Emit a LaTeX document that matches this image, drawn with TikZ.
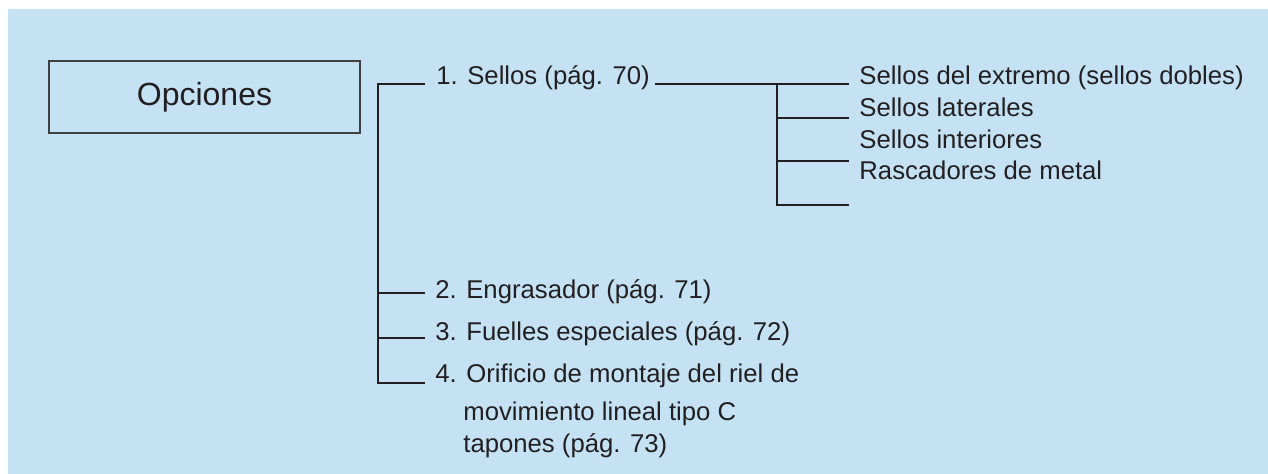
\documentclass[tikz,border=0pt]{standalone}
\usepackage{fontspec}
\setmainfont{Liberation Sans}
\usetikzlibrary{positioning}
\definecolor{panelblue}{RGB}{196,226,243}
\definecolor{ink}{RGB}{35,31,32}

\begin{document}
\begin{tikzpicture}[x=0.5pt, y=-0.5pt,
    lst/.style={anchor=base west, inner sep=0pt, text=ink, font=\fontsize{12.85}{15}\selectfont},
    br/.style={draw=ink, line width=1pt},
    ttl/.style={draw=black!75, line width=0.65pt, minimum width=155.5pt, minimum height=36pt, inner sep=0pt, text=ink, font=\fontsize{16}{19}\selectfont}
]
\useasboundingbox (0,0) rectangle (1268,474);
\fill[panelblue] (8,9) rectangle (1268,474);

\node[ttl] (opc) at (204.5,97) {Opciones};

% first level
\node[lst] (s1) at (436,85) {1. Sellos (pág. 70)};
\node[lst] (s2) at (435,299) {2. Engrasador (pág. 71)};
\node[lst] (s3) at (435,341) {3. Fuelles especiales (pág. 72)};
\node[lst] (s4) at (435,383) {4. Orificio de montaje del riel de};
\node[lst] (s4b) at (463,421) {movimiento lineal tipo C};
\node[lst] (s4c) at (463,453) {tapones (pág. 73)};

% second level
\node[lst] (r1) at (859,85) {Sellos del extremo (sellos dobles)};
\node[lst] (r2) at (859,117) {Sellos laterales};
\node[lst] (r3) at (859,149) {Sellos interiores};
\node[lst] (r4) at (859,180) {Rascadores de metal};

\coordinate (t1) at (378,84);
\coordinate (t2) at (378,293);
\coordinate (t3) at (378,338);
\coordinate (t4) at (378,383);
\coordinate (e1) at (425,84);
\coordinate (e2) at (425,293);
\coordinate (e3) at (425,338);
\coordinate (e4) at (425,383);

\coordinate (u0) at (655,84);
\coordinate (u1) at (777,84);
\coordinate (u2) at (777,118);
\coordinate (u3) at (777,161);
\coordinate (u4) at (777,205);
\coordinate (v1) at (849,84);
\coordinate (v2) at (849,118);
\coordinate (v3) at (849,161);
\coordinate (v4) at (849,205);

\draw[br] (e1) -- (t1) -- (t4) -- (e4);
\draw[br] (t2) -- (e2);
\draw[br] (t3) -- (e3);
\draw[br] (u0) -- (v1);
\draw[br] (u1) -- (u4) -- (v4);
\draw[br] (u2) -- (v2);
\draw[br] (u3) -- (v3);
\end{tikzpicture}
\end{document}
